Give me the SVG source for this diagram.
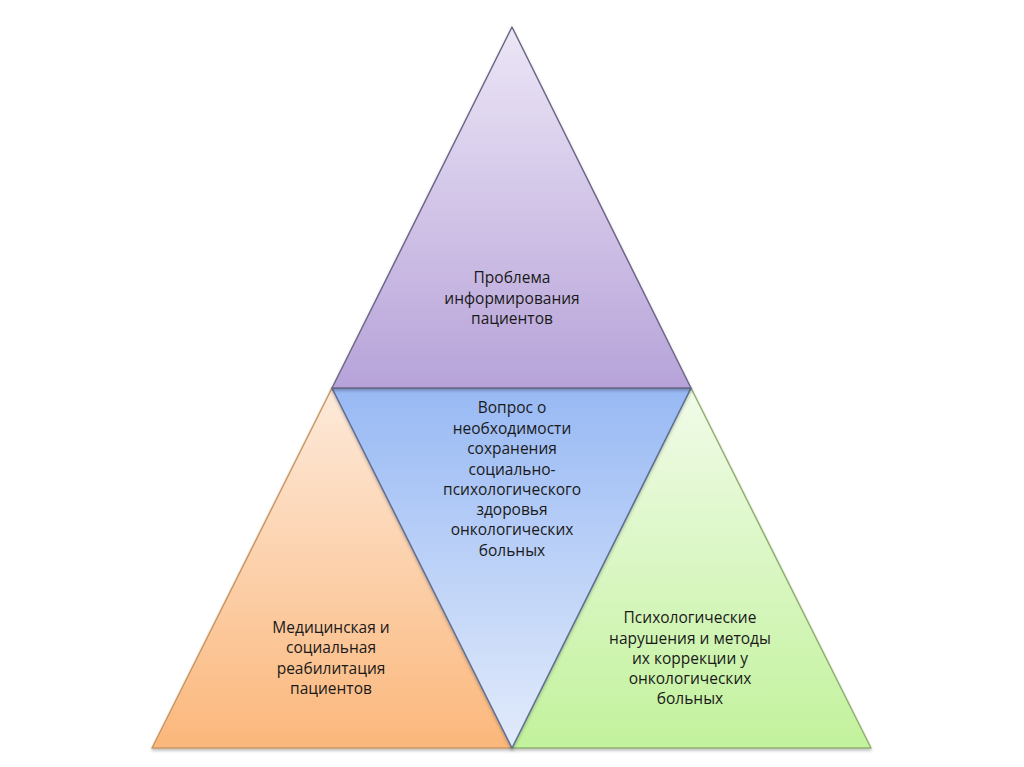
<svg xmlns="http://www.w3.org/2000/svg" width="1024" height="767" viewBox="0 0 1024 767">
<defs>
<linearGradient id="gTop" x1="0" y1="0" x2="0" y2="1"><stop offset="0" stop-color="#ece6f6"/><stop offset="1" stop-color="#b7a3d9"/></linearGradient>
<linearGradient id="gMid" x1="0" y1="0" x2="0" y2="1"><stop offset="0" stop-color="#98b9f4"/><stop offset="1" stop-color="#e2ebfb"/></linearGradient>
<linearGradient id="gLeft" x1="0" y1="0" x2="0" y2="1"><stop offset="0" stop-color="#fdeadb"/><stop offset="1" stop-color="#fbb77b"/></linearGradient>
<linearGradient id="gRight" x1="0" y1="0" x2="0" y2="1"><stop offset="0" stop-color="#f1fbe9"/><stop offset="1" stop-color="#c2f29c"/></linearGradient>
<filter id="sh" x="-10%" y="-10%" width="120%" height="120%"><feDropShadow dx="0" dy="2" stdDeviation="1.5" flood-color="#000" flood-opacity="0.25"/></filter>
</defs>
<style>
text{font-family:"Open Sans","Liberation Sans",sans-serif;font-size:15.5px;fill:#1a1a1a;text-anchor:middle}
.tri{stroke-width:1.5;stroke-linejoin:round;filter:url(#sh)}
</style>
<rect width="1024" height="767" fill="#ffffff"/>
<g id="node-left">
<polygon class="tri" points="332,388 152,748 512,748" fill="url(#gLeft)" stroke="#c99866"/>
<text x="331" y="633">Медицинская и</text>
<text x="331" y="653">социальная</text>
<text x="331" y="674">реабилитация</text>
<text x="331" y="694">пациентов</text>
</g>
<g id="node-right">
<polygon class="tri" points="691,388 512,748 871,748" fill="url(#gRight)" stroke="#90b070"/>
<text x="690" y="623">Психологические</text>
<text x="690" y="644">нарушения и методы</text>
<text x="690" y="664">их коррекции у</text>
<text x="690" y="684">онкологических</text>
<text x="690" y="704">больных</text>
</g>
<g id="node-center">
<polygon class="tri" points="332,388 691,388 512,748" fill="url(#gMid)" stroke="#5e6f98"/>
<text x="512" y="413">Вопрос о</text>
<text x="512" y="434">необходимости</text>
<text x="512" y="454">сохранения</text>
<text x="512" y="475">социально-</text>
<text x="512" y="495">психологического</text>
<text x="512" y="515">здоровья</text>
<text x="512" y="535">онкологических</text>
<text x="512" y="556">больных</text>
</g>
<g id="node-top">
<polygon class="tri" points="512,27 332,388 691,388" fill="url(#gTop)" stroke="#6c6888"/>
<text x="512" y="283">Проблема</text>
<text x="512" y="304">информирования</text>
<text x="512" y="324">пациентов</text>
</g>
<g id="connectors"></g>
</svg>
